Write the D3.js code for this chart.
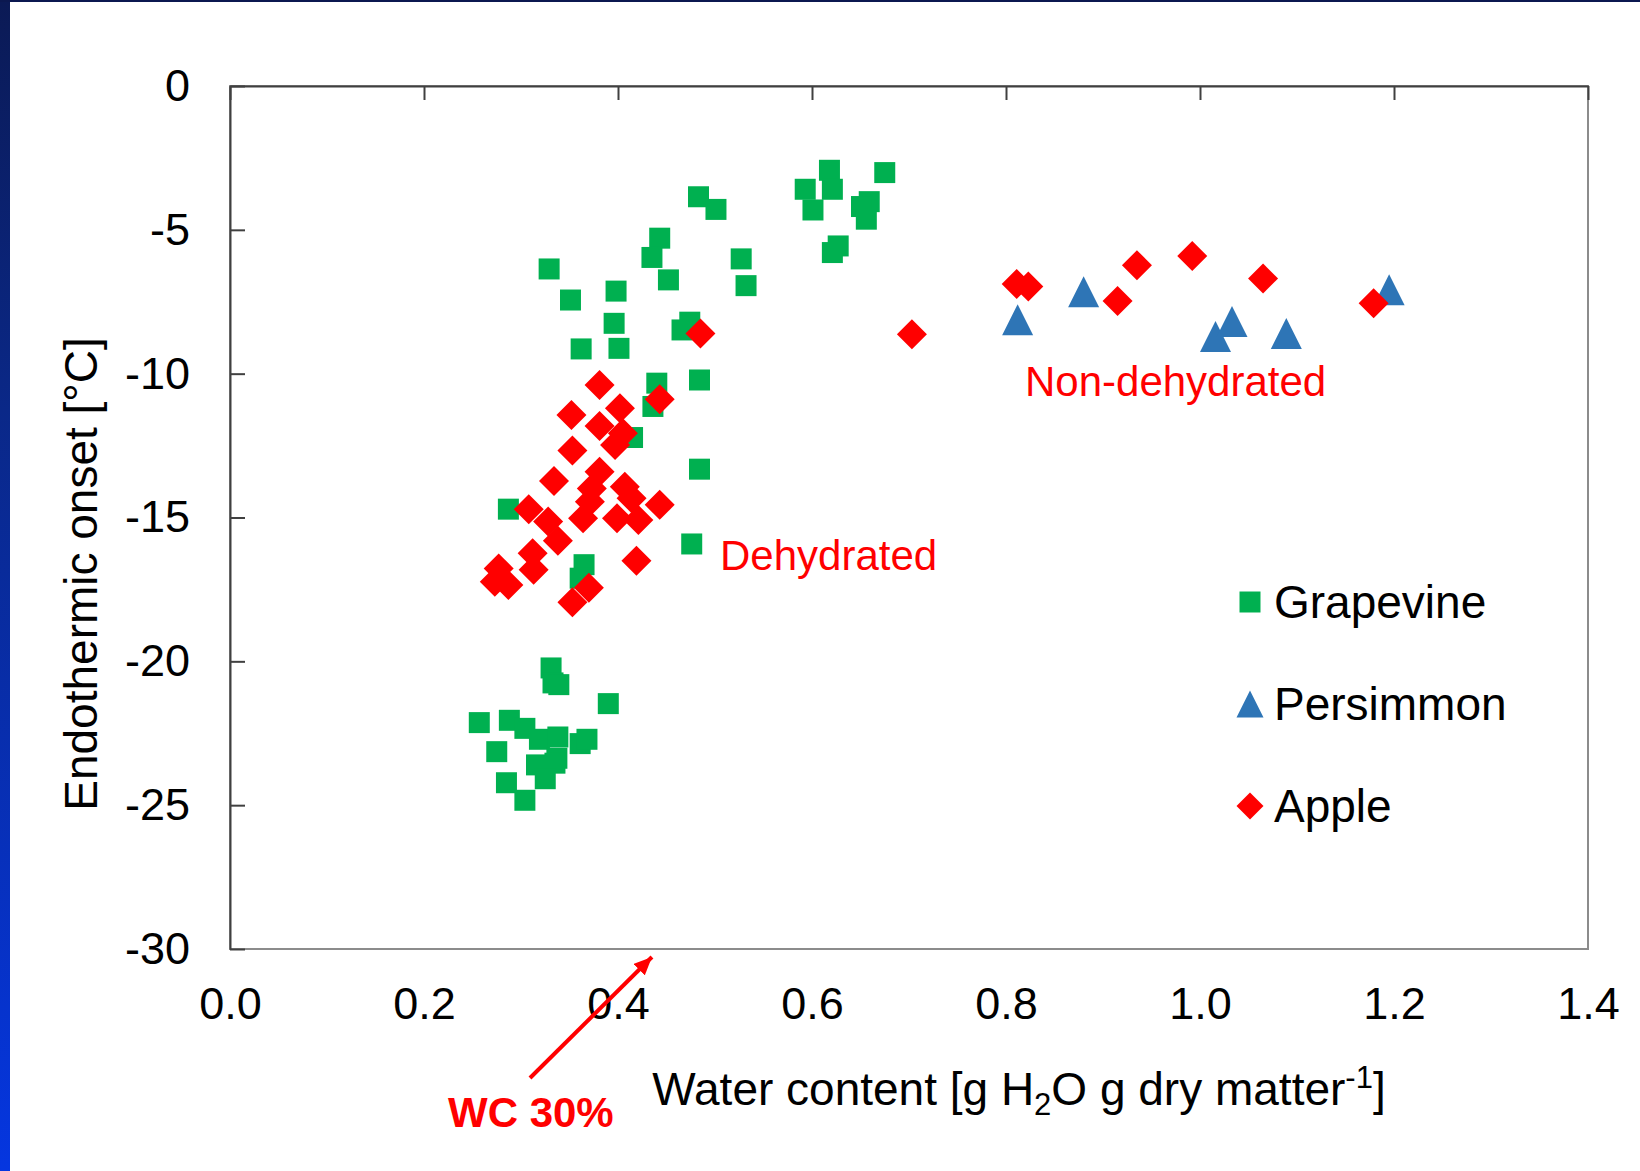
<!DOCTYPE html>
<html>
<head>
<meta charset="utf-8">
<script src="https://cdn.jsdelivr.net/npm/d3@7"></script>
<style>
  body { margin: 0; background: #fff; }
  svg { display: block; font-family: "Liberation Sans", Arial, sans-serif; }
</style>
</head>
<body>
<svg></svg>
<script>
// data: [water content, endothermic onset]
const grapevine = [
  [0.618, -2.93], [0.675, -3.01], [0.593, -3.59], [0.621, -3.59], [0.601, -4.31],
  [0.659, -4.02], [0.651, -4.19], [0.656, -4.63], [0.627, -5.56], [0.621, -5.79],
  [0.483, -3.85], [0.501, -4.29], [0.443, -5.29], [0.435, -5.96], [0.452, -6.74],
  [0.527, -6.01], [0.532, -6.94], [0.329, -6.36], [0.351, -7.44], [0.398, -7.13],
  [0.396, -8.25], [0.362, -9.14], [0.401, -9.12], [0.474, -8.21], [0.466, -8.48],
  [0.440, -10.33], [0.484, -10.22], [0.436, -11.14], [0.415, -12.22], [0.484, -13.32],
  [0.287, -14.71], [0.476, -15.92], [0.365, -16.64], [0.361, -17.11],
  [0.331, -20.23], [0.333, -20.75], [0.339, -20.81], [0.390, -21.47], [0.257, -22.13],
  [0.288, -22.05], [0.304, -22.33], [0.319, -22.71], [0.338, -22.63], [0.361, -22.86],
  [0.368, -22.71], [0.337, -23.37], [0.335, -23.54], [0.316, -23.60], [0.275, -23.14],
  [0.325, -24.08], [0.285, -24.22], [0.304, -24.83]
]
const persimmon = [
  [0.812, -8.13], [0.880, -7.15], [1.016, -8.71], [1.033, -8.19], [1.089, -8.60], [1.195, -7.08]
]
const apple = [
  [0.485, -8.60], [0.703, -8.63], [0.381, -10.39], [0.402, -11.20], [0.443, -10.89],
  [0.352, -11.44], [0.381, -11.82], [0.405, -12.07], [0.397, -12.48], [0.353, -12.67],
  [0.381, -13.41], [0.334, -13.73], [0.373, -13.99], [0.407, -13.93], [0.414, -14.33],
  [0.443, -14.56], [0.371, -14.45], [0.308, -14.71], [0.364, -15.03], [0.399, -15.03],
  [0.421, -15.09], [0.328, -15.14], [0.338, -15.81], [0.312, -16.24], [0.313, -16.82],
  [0.277, -16.77], [0.273, -17.23], [0.287, -17.35], [0.419, -16.50], [0.370, -17.44],
  [0.353, -17.95],
  [0.811, -6.88], [0.823, -6.97], [0.915, -7.47], [0.935, -6.23], [0.992, -5.91],
  [1.065, -6.69], [1.179, -7.55]
]
const xTicks = [0, 0.2, 0.4, 0.6, 0.8, 1.0, 1.2, 1.4]
const yTicks = [0, -5, -10, -15, -20, -25, -30]
const seriesNames = ['Grapevine', 'Persimmon', 'Apple']

const width = 1640
const height = 1171
const plotLeft = 230, plotRight = 1588, plotTop = 86, plotBottom = 949

const xScale = d3.scaleLinear().domain([0, 1.4]).range([plotLeft, plotRight])
const yScale = d3.scaleLinear().domain([-30, 0]).range([plotBottom, plotTop])

const shapes = {
  Grapevine: { color: '#00b050', path: s => `M${-s / 2},${-s / 2}h${s}v${s}h${-s}Z` },
  Persimmon: { color: '#2e75b6', path: s => `M0,${-s / 2}L${s / 2},${s / 2}L${-s / 2},${s / 2}Z` },
  Apple: { color: '#ff0000', path: s => `M0,${-s / 2}L${s / 2},0L0,${s / 2}L${-s / 2},0Z` }
}
const markerSize = { Grapevine: 21, Persimmon: 31, Apple: 30 }

const svg = d3.select('svg')
    .attr('width', width)
    .attr('height', height)

// slide frame: blue band on the left, thin navy line on top
const defs = svg.append('defs')
const grad = defs.append('linearGradient')
    .attr('id', 'band').attr('x1', 0).attr('y1', 0).attr('x2', 0).attr('y2', 1)
grad.append('stop').attr('offset', 0).attr('stop-color', '#0b1a55')
grad.append('stop').attr('offset', 0.35).attr('stop-color', '#0a2888')
grad.append('stop').attr('offset', 1).attr('stop-color', '#0536e0')

svg.append('rect').attr('x', 0).attr('y', 0).attr('width', 10).attr('height', height)
    .attr('fill', 'url(#band)')
svg.append('rect').attr('x', 0).attr('y', 0).attr('width', width).attr('height', 2)
    .attr('fill', '#0b1850')

// plot area border
svg.append('rect')
    .attr('x', plotLeft).attr('y', plotTop)
    .attr('width', plotRight - plotLeft).attr('height', plotBottom - plotTop)
    .attr('fill', 'none')
    .attr('stroke', '#8c8c8c')
    .attr('stroke-width', 2)

// x axis crosses at 0 (top), ticks inside, labels low
const xAxisTop = d3.axisTop(xScale).tickValues(xTicks).tickSizeInner(-14).tickSizeOuter(0).tickFormat('')
svg.append('g')
    .attr('transform', 'translate(0,' + plotTop + ')')
    .call(xAxisTop)
    .call(g => g.selectAll('path, line').attr('stroke', '#404040').attr('stroke-width', 2))

const xAxisBottom = d3.axisBottom(xScale).tickValues(xTicks).tickSize(0).tickPadding(38)
    .tickFormat(d3.format('.1f'))
svg.append('g')
    .attr('transform', 'translate(0,' + plotBottom + ')')
    .call(xAxisBottom)
    .call(g => g.select('.domain').remove())
    .call(g => g.selectAll('text').attr('font-size', 45).attr('fill', '#000')
        .attr('font-family', '"Liberation Sans", Arial, sans-serif'))

const yAxis = d3.axisLeft(yScale).tickValues(yTicks).tickSizeInner(-15).tickSizeOuter(0).tickPadding(40)
    .tickFormat(d => String(d))
svg.append('g')
    .attr('transform', 'translate(' + plotLeft + ',0)')
    .call(yAxis)
    .call(g => g.selectAll('path, line').attr('stroke', '#404040').attr('stroke-width', 2))
    .call(g => g.selectAll('text').attr('font-size', 45).attr('fill', '#000')
        .attr('font-family', '"Liberation Sans", Arial, sans-serif'))

// points
const allSeries = [['Grapevine', grapevine], ['Persimmon', persimmon], ['Apple', apple]]
allSeries.forEach(([name, data]) => {
  svg.append('g')
    .selectAll('path')
    .data(data)
    .enter()
    .append('path')
        .attr('transform', d => 'translate(' + xScale(d[0]) + ',' + yScale(d[1]) + ')')
        .attr('d', shapes[name].path(markerSize[name]))
        .attr('fill', shapes[name].color)
})

// legend
const legendSize = { Grapevine: 21, Persimmon: 27, Apple: 27 }
const legend = svg.append('g')
    .selectAll('g')
    .data(seriesNames)
    .enter()
    .append('g')
        .attr('transform', (d, i) => 'translate(1250,' + (602 + i * 102) + ')')
legend.append('path')
    .attr('d', d => shapes[d].path(legendSize[d]))
    .attr('fill', d => shapes[d].color)
legend.append('text')
    .attr('x', 24)
    .attr('y', 16)
    .attr('font-size', 46)
    .text(d => d)

// axis titles
svg.append('text')
    .attr('transform', 'translate(97,574) rotate(-90)')
    .attr('font-size', 46)
    .style('text-anchor', 'middle')
    .text('Endothermic onset [°C]')

const xTitle = svg.append('text')
    .attr('x', 1019)
    .attr('y', 1105)
    .attr('font-size', 46)
    .style('text-anchor', 'middle')
xTitle.append('tspan').text('Water content [g H')
xTitle.append('tspan').attr('font-size', 31).attr('dy', 10).text('2')
xTitle.append('tspan').attr('dy', -10).text('O g dry matter')
xTitle.append('tspan').attr('font-size', 31).attr('dy', -17).text('-1')
xTitle.append('tspan').attr('dy', 17).text(']')

// annotations
svg.append('text')
    .attr('x', 720).attr('y', 570)
    .attr('font-size', 42).attr('fill', '#ff0000')
    .text('Dehydrated')

svg.append('text')
    .attr('x', 1025).attr('y', 396)
    .attr('font-size', 42).attr('fill', '#ff0000')
    .text('Non-dehydrated')

svg.append('text')
    .attr('x', 448).attr('y', 1127)
    .attr('font-size', 42).attr('font-weight', 'bold').attr('fill', '#ff0000')
    .text('WC 30%')

defs.append('marker')
    .attr('id', 'head')
    .attr('markerUnits', 'userSpaceOnUse')
    .attr('viewBox', '0 0 18 16')
    .attr('refX', 18).attr('refY', 8)
    .attr('markerWidth', 18).attr('markerHeight', 16)
    .attr('orient', 'auto')
  .append('path')
    .attr('d', 'M0,0L18,8L0,16Z')
    .attr('fill', '#ff0000')

svg.append('line')
    .attr('x1', 530).attr('y1', 1078)
    .attr('x2', xScale(0.435)).attr('y2', yScale(-30) + 8)
    .attr('stroke', '#ff0000')
    .attr('stroke-width', 4)
    .attr('marker-end', 'url(#head)')
</script>
</body>
</html>
